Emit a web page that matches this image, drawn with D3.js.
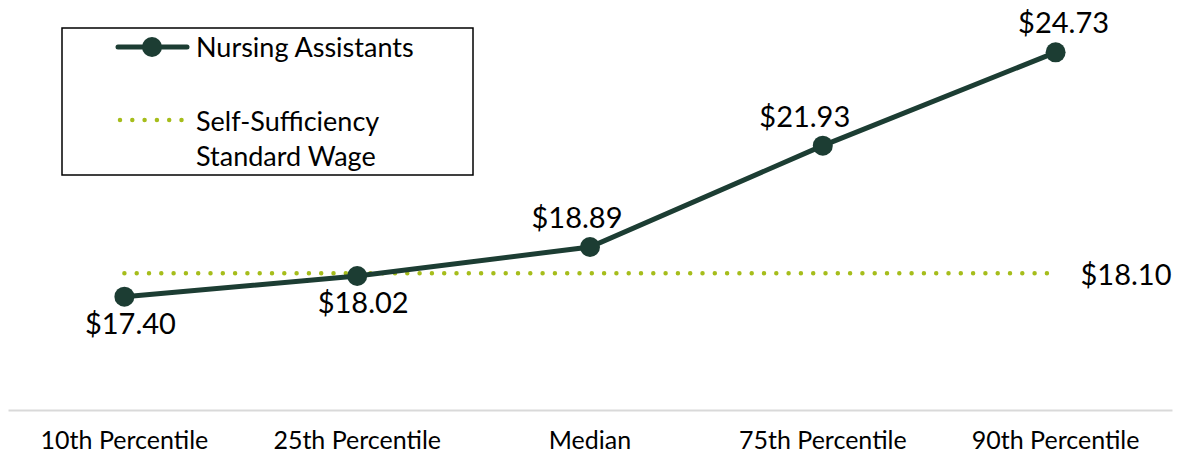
<!DOCTYPE html>
<html>
<head>
<meta charset="utf-8">
<script src="https://cdn.jsdelivr.net/npm/d3@7"></script>
<style>
  body { margin: 0; background: #fff; }
  text { font-family: "Lato", "Noto Sans", sans-serif; fill: #000; }
</style>
</head>
<body>
<script>
const categories = ["10th Percentile", "25th Percentile", "Median", "75th Percentile", "90th Percentile"];
const wages = [17.40, 18.02, 18.89, 21.93, 24.73];
const selfSufficiency = 18.10;

const width = 1177, height = 455;
const lineColor = "#1c3d33";
const dotColor = "#a6bd1b";

// label placement (below / above the marker, horizontal nudge)
const labelBelow = [true, true, false, false, false];
const labelDx = [6, 6, -13, -18, 8];

const svg = d3.select("body").append("svg")
  .attr("width", width)
  .attr("height", height);

const x = d3.scaleBand()
  .domain(categories)
  .range([8, 1172]);

const y = d3.scaleLinear()
  .domain([14, 26])
  .range([410, 10]);

const cx = d => x(d) + x.bandwidth() / 2;

// x axis
const xAxis = d3.axisBottom(x).tickSize(0).tickPadding(0);
const gx = svg.append("g")
  .attr("transform", "translate(0,410)")
  .call(xAxis);
gx.select(".domain").attr("stroke", "#d9d9d9").attr("stroke-width", 2);
gx.selectAll("text")
  .attr("dy", null)
  .attr("y", 39)
  .style("font-size", "25px")
  .attr("fill", "#000");

// self sufficiency line
svg.append("line")
  .attr("x1", cx(categories[0]))
  .attr("x2", cx(categories[categories.length - 1]) - 8)
  .attr("y1", y(selfSufficiency))
  .attr("y2", y(selfSufficiency))
  .attr("stroke", dotColor)
  .attr("stroke-width", 4.5)
  .attr("stroke-linecap", "round")
  .attr("stroke-dasharray", "0 12.3");

svg.append("text")
  .attr("x", 1126)
  .attr("y", 285)
  .attr("text-anchor", "middle")
  .style("font-size", "29px")
  .text("$" + selfSufficiency.toFixed(2));

// wage line
const line = d3.line()
  .x((d, i) => cx(categories[i]))
  .y(d => y(d));

svg.append("path")
  .datum(wages)
  .attr("d", line)
  .attr("fill", "none")
  .attr("stroke", lineColor)
  .attr("stroke-width", 5);

svg.selectAll("circle.pt")
  .data(wages)
  .enter()
  .append("circle")
  .attr("class", "pt")
  .attr("cx", (d, i) => cx(categories[i]))
  .attr("cy", d => y(d))
  .attr("r", 10)
  .attr("fill", lineColor);

svg.selectAll("text.lbl")
  .data(wages)
  .enter()
  .append("text")
  .attr("class", "lbl")
  .attr("x", (d, i) => cx(categories[i]) + labelDx[i])
  .attr("y", (d, i) => labelBelow[i] ? y(d) + 37 : y(d) - 19)
  .attr("text-anchor", "middle")
  .style("font-size", "29px")
  .text(d => "$" + d.toFixed(2));

// legend
const lg = svg.append("g");
lg.append("rect")
  .attr("x", 62).attr("y", 28)
  .attr("width", 411).attr("height", 147)
  .attr("fill", "#fff")
  .attr("stroke", "#000")
  .attr("stroke-width", 1.5);

lg.append("line")
  .attr("x1", 118).attr("x2", 187)
  .attr("y1", 47).attr("y2", 47)
  .attr("stroke", lineColor)
  .attr("stroke-width", 5)
  .attr("stroke-linecap", "round");
lg.append("circle")
  .attr("cx", 152).attr("cy", 47).attr("r", 10)
  .attr("fill", lineColor);
lg.append("text")
  .attr("x", 196).attr("y", 57)
  .style("font-size", "27px")
  .text("Nursing Assistants");

lg.append("line")
  .attr("x1", 120).attr("x2", 185)
  .attr("y1", 120).attr("y2", 120)
  .attr("stroke", dotColor)
  .attr("stroke-width", 4.5)
  .attr("stroke-linecap", "round")
  .attr("stroke-dasharray", "0 12.3");
lg.append("text")
  .attr("x", 196).attr("y", 131)
  .style("font-size", "27px")
  .text("Self-Sufficiency");
lg.append("text")
  .attr("x", 196).attr("y", 166)
  .style("font-size", "27px")
  .text("Standard Wage");
</script>
</body>
</html>
